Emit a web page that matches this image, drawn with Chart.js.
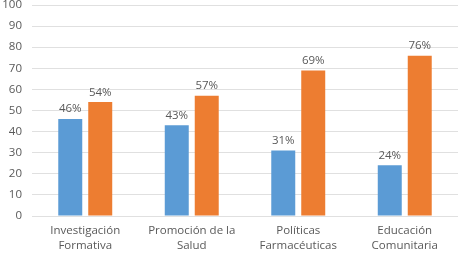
<!DOCTYPE html>
<html><head><meta charset="utf-8">
<script src="https://cdn.jsdelivr.net/npm/chart.js@4"></script>
<style>html,body{margin:0;padding:0;background:#fff}#c{display:block}</style>
</head><body>
<canvas id="c" width="459" height="256"></canvas>
<script>
const categories = [["Investigación","Formativa"],["Promoción de la","Salud"],["Políticas","Farmacéuticas"],["Educación","Comunitaria"]];
const seriesA = [46, 43, 31, 24];
const seriesB = [54, 57, 69, 76];
const yTicks = [0,10,20,30,40,50,60,70,80,90,100];

const labelPlugin = {
  id: 'valLabels',
  afterDatasetsDraw(chart) {
    const ctx = chart.ctx;
    ctx.save();
    ctx.font = '11.5px "Open Sans", sans-serif';
    ctx.fillStyle = '#595959';
    ctx.textAlign = 'center';
    ctx.textBaseline = 'bottom';
    chart.data.datasets.forEach((ds, i) => {
      chart.getDatasetMeta(i).data.forEach((bar, j) => {
        ctx.fillText(ds.data[j] + '%', bar.x, bar.y - 4);
      });
    });
    ctx.restore();
  }
};

new Chart(document.getElementById('c'), {
  type: 'bar',
  data: {
    labels: categories,
    datasets: [
      {data: seriesA, backgroundColor: '#5B9BD5', borderWidth: 0},
      {data: seriesB, backgroundColor: '#ED7D31', borderWidth: 0}
    ]
  },
  options: {
    responsive: false,
    animation: false,
    devicePixelRatio: 1,
    layout: {padding: {left: 0, right: 1, top: 0, bottom: 0}},
    datasets: {bar: {categoryPercentage: 0.563, barPercentage: 0.8}},
    plugins: {legend: {display: false}, tooltip: {enabled: false}},
    scales: {
      x: {
        grid: {display: false, drawTicks: false},
        border: {display: false},
        afterFit(scale) { scale.height = 40; },
        ticks: {color: '#595959', font: {family: '"Open Sans", sans-serif', size: 11.5, lineHeight: 1.3}, maxRotation: 0, padding: 7}
      },
      y: {
        min: 0, max: 100,
        afterBuildTicks(axis) { axis.ticks = yTicks.map(v => ({value: v})); },
        afterFit(scale) { scale.width = 32; scale.paddingTop = 5; scale.paddingBottom = 0; },
        grid: {color: '#E0E0E0', drawTicks: false},
        border: {display: false},
        ticks: {color: '#595959', font: {family: '"Open Sans", sans-serif', size: 11.5}, padding: 10}
      }
    }
  },
  plugins: [labelPlugin]
});
</script>
</body></html>
